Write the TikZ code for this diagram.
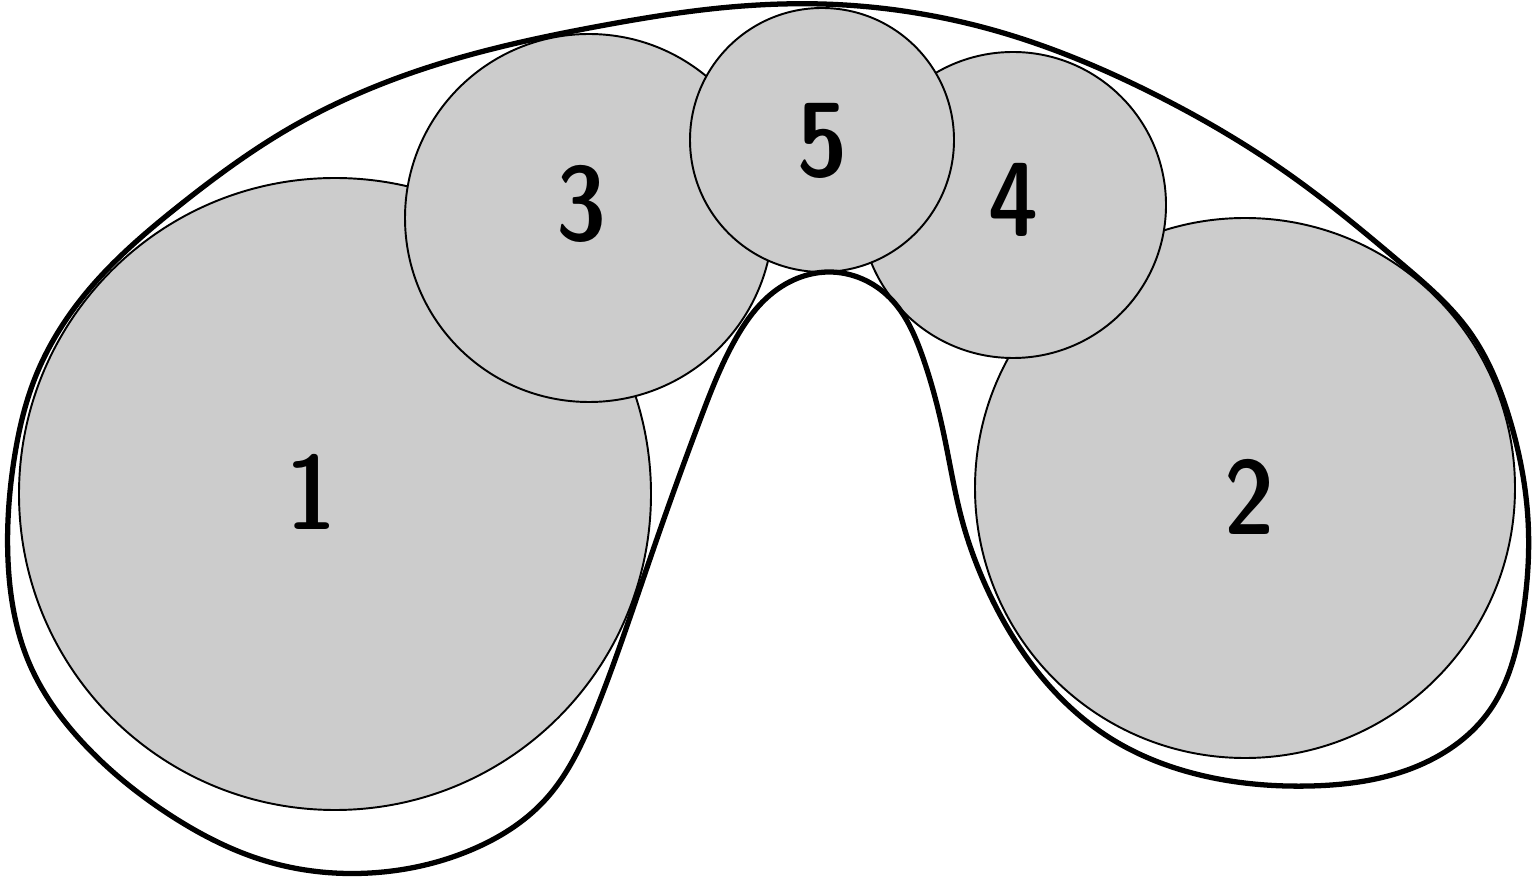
\documentclass[tikz,border=0pt]{standalone}
\usetikzlibrary{hobby}
\begin{document}
\begin{tikzpicture}[x=0.1mm, y=-0.1mm,
    ball/.style={circle, fill=black!20, draw=black, line width=0.55pt, inner sep=0pt},
    num/.style={inner sep=0pt, font=\fontsize{30}{30}\fontseries{sbc}\sffamily\selectfont},
    hull/.style={line width=1.5pt, line join=round, use Hobby shortcut, closed=true}
  ]
  \useasboundingbox (0,0) rectangle (1534,880);

  % discs, drawn 1 to 5 so later ones overlap earlier ones
  \node[ball, minimum size=63.2mm] (b1) at (335,494) {};
  \node[ball, minimum size=54mm] (b2) at (1245,488) {};
  \node[ball, minimum size=36.8mm] (b3) at (589,218) {};
  \node[ball, minimum size=30.6mm] (b4) at (1013,205) {};
  \node[ball, minimum size=26.4mm] (b5) at (822,140) {};

  \node[num] (n1) at (312,492) {1};
  \node[num] (n2) at (1250,497) {2};
  \node[num] (n3) at (582,204) {3};
  \node[num] (n4) at (1014,200) {4};
  \node[num] (n5) at (823,141) {5};

  % enclosing curve
  \draw[hull] (822,4) .. (1000,32) .. (1150,92) .. (1290,175) .. (1402,264)
    .. (1469,331) .. (1509,417) .. (1528,520) .. (1522,620) .. (1490,710)
    .. (1420,765) .. (1310,786) .. (1200,775) .. (1110,738) .. (1040,675)
    .. (990,595) .. (962,520) .. (945,440) .. (922,355) .. (890,298)
    .. (828,272) .. (770,295) .. (735,340) .. (700,420) .. (660,530)
    .. (628,623) .. (596,710) .. (545,800) .. (471,850) .. (370,873)
    .. (269,862) .. (170,815) .. (85,745) .. (30,665) .. (8,560)
    .. (14,460) .. (35,378) .. (92,286) .. (180,205) .. (290,128)
    .. (420,70) .. (600,26) .. (720,8);
\end{tikzpicture}
\end{document}
